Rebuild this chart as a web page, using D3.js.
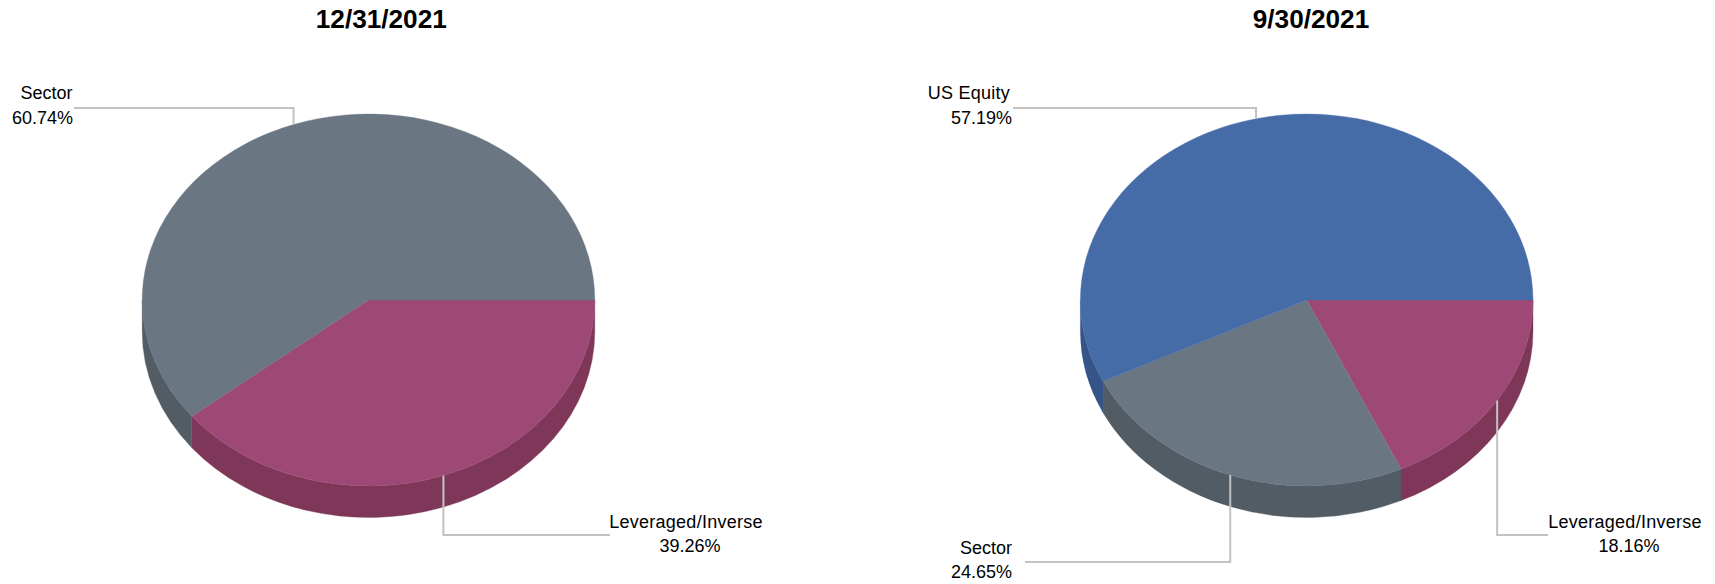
<!DOCTYPE html>
<html><head><meta charset="utf-8">
<script src="https://cdn.jsdelivr.net/npm/d3@7"></script>
<style>html,body{margin:0;padding:0;background:#fff}svg{display:block}text{font-family:"Liberation Sans",Arial,sans-serif;fill:#000}</style>
</head><body><svg id="c" width="1715" height="584"></svg>
<script>
// Data
const titles = ["12/31/2021", "9/30/2021"];
const leftCategories = ["Leveraged/Inverse", "Sector"];
const leftValues = [39.26, 60.74];
const rightCategories = ["Leveraged/Inverse", "Sector", "US Equity"];
const rightValues = [18.16, 24.65, 57.19];
const colors = {"US Equity":"#466CA8","Sector":"#6A7782","Leveraged/Inverse":"#9E4975"};
const wallColors = {"US Equity":"#355488","Sector":"#525C65","Leveraged/Inverse":"#7E3759"};
// Layout
const RX=226.3, RY=186, DEPTH=31.5, CY=300;
const charts=[
 {title:titles[0],cats:leftCategories,vals:leftValues,cx:368.5,titleX:381.3,labels:{
  "Sector":{elbowY:108,endX:74,tx:[72.5,73],ty:[99,124],anchor:"end",ls:0},
  "Leveraged/Inverse":{elbowY:535,endX:610,tx:[686,690],ty:[528,552],anchor:"middle",ls:0.25}}},
 {title:titles[1],cats:rightCategories,vals:rightValues,cx:1306.7,titleX:1311,labels:{
  "US Equity":{elbowY:108,endX:1013,tx:[1010,1012],ty:[99,124],anchor:"end",ls:0.25},
  "Sector":{elbowY:562,endX:1025,tx:[1012,1012],ty:[554,578],anchor:"end",ls:0},
  "Leveraged/Inverse":{elbowY:535,endX:1548,tx:[1625,1629],ty:[528,552],anchor:"middle",ls:0.25}}}
];
const svg=d3.select("#c");
const pie=d3.pie().sort(null).startAngle(Math.PI/2).endAngle(Math.PI/2+2*Math.PI);
const arc=d3.arc().innerRadius(0).outerRadius(RX);
const k=RY/RX;
const fmt=d3.format(".2f");
charts.forEach(ch=>{
  const rows=ch.cats.map((c,i)=>({cat:c,val:ch.vals[i]}));
  const arcs=pie.value(d=>d.val)(rows);
  const root=svg.append("g");
  const g=root.append("g").attr("transform",`translate(${ch.cx},${CY}) scale(1,${k})`);
  arcs.forEach(a=>{
    const a0=Math.max(a.startAngle-Math.PI/2,0), a1=Math.min(a.endAngle-Math.PI/2,Math.PI);
    if(a1<=a0) return;
    const p=d3.path(), d=DEPTH/k;
    p.arc(0,0,RX,a0,a1);
    p.arc(0,d,RX,a1,a0,true);
    p.closePath();
    g.append("path").attr("d",p.toString()).attr("fill",wallColors[a.data.cat])
      .attr("stroke",wallColors[a.data.cat]).attr("stroke-width",0.4);
  });
  g.selectAll("path.top").data(arcs).join("path").attr("class","top")
    .attr("d",arc).attr("fill",d=>colors[d.data.cat])
    .attr("stroke",d=>colors[d.data.cat]).attr("stroke-width",0.4);
  arcs.forEach(a=>{
    const L=ch.labels[a.data.cat];
    const m=(a.startAngle+a.endAngle)/2-Math.PI/2;
    const x=ch.cx+RX*Math.cos(m), y=CY+RY*Math.sin(m);
    root.append("path").attr("d",d3.line()([[x,y],[x,L.elbowY],[L.endX,L.elbowY]]))
      .attr("fill","none").attr("stroke","#c2c2c2").attr("stroke-width",2);
    [a.data.cat,fmt(a.data.val)+"%"].forEach((t,i)=>{
      root.append("text").attr("x",L.tx[i]).attr("y",L.ty[i]).attr("text-anchor",L.anchor)
        .attr("font-size",18).attr("letter-spacing",i===0?L.ls:0).text(t);
    });
  });
  root.append("text").attr("x",ch.titleX).attr("y",27.5).attr("text-anchor","middle")
    .attr("font-size",26.2).attr("font-weight","bold").text(ch.title);
});
</script></body></html>
